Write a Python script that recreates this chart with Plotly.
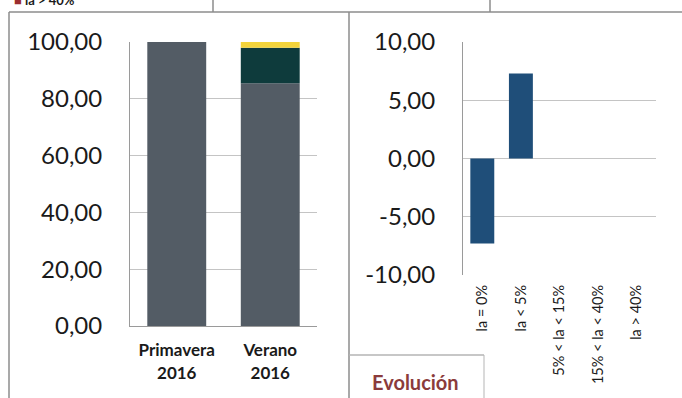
import plotly.graph_objects as go

# left chart: distribution per season (stacked, %)
seasons = ["Primavera<br>2016", "Verano<br>2016"]
series_names = ["la = 0%", "la < 5%", "5% < la < 15%", "15% < la < 40%", "la > 40%"]
series_values = [
    [100.0, 85.5],
    [0.0, 12.5],
    [0.0, 2.0],
    [0.0, 0.0],
    [0.0, 0.0],
]
series_colors = ["#535c65", "#0e3b3c", "#f3d43b", "#7f9fb9", "#9b2d30"]

# right chart: evolution
evo_categories = ["la = 0%", "la < 5%", "5% < la < 15%", "15% < la < 40%", "la > 40%"]
evo_values = [-7.3, 7.3, 0.0, 0.0, 0.0]

left_tickvals = [0, 20, 40, 60, 80, 100]
left_ticktext = ["0,00", "20,00", "40,00", "60,00", "80,00", "100,00"]
right_tickvals = [-10, -5, 0, 5, 10]
right_ticktext = ["-10,00", "-5,00", "0,00", "5,00", "10,00"]

W, H = 682, 398
def px(x):
    return x / W
def py(y):
    return 1 - y / H

fig = go.Figure()

for name, vals, col in zip(series_names, series_values, series_colors):
    fig.add_trace(go.Bar(x=seasons, y=vals, name=name, marker_color=col,
                         marker_line_width=0, width=0.63, xaxis="x", yaxis="y"))

fig.add_trace(go.Bar(x=evo_categories, y=evo_values, marker_color="#1f4e79",
                     marker_line_width=0, width=0.62, xaxis="x2", yaxis="y2",
                     showlegend=False))

grid = "#c4c4c4"
axl = "#9a9a9a"
numfont = dict(family="Lato", size=24, color="#1a1a1a")

fig.update_layout(
    width=W, height=H,
    margin=dict(l=0, r=0, t=0, b=0, autoexpand=False),
    paper_bgcolor="white", plot_bgcolor="white",
    barmode="relative",
    showlegend=False,
    xaxis=dict(domain=[px(130), px(317)], range=[-0.5, 1.5], showline=True,
               linecolor=axl, showgrid=False, ticks="", automargin=False,
               tickfont=dict(family="Lato", size=17, color="#1a1a1a", weight="bold"),
               ticklabelstandoff=9, fixedrange=True),
    yaxis=dict(domain=[py(326), py(42)], range=[0, 100], showline=True,
               linecolor=axl, gridcolor=grid, tickvals=left_tickvals,
               ticktext=left_ticktext, tickfont=numfont, ticks="", automargin=False,
               ticklabelstandoff=22, zeroline=False),
    xaxis2=dict(domain=[px(463), px(656)], range=[-0.5, 4.5], showline=False,
                showgrid=False, ticks="", tickangle=-90, anchor="y2", automargin=False,
                tickfont=dict(family="Lato", size=14.5, color="#1a1a1a"),
                ticklabelstandoff=6),
    yaxis2=dict(domain=[py(275), py(42)], range=[-10, 10], showline=True,
                linecolor=axl, gridcolor=grid, tickvals=right_tickvals,
                ticktext=right_ticktext, tickfont=numfont, ticks="", automargin=False,
                ticklabelstandoff=22, zeroline=False, anchor="x2"),
)

line = dict(color="#8c8c8c", width=1.5)
shapes = [
    dict(type="line", xref="paper", yref="paper", x0=px(9), x1=1, y0=py(12), y1=py(12), line=line),
    dict(type="line", xref="paper", yref="paper", x0=px(9), x1=px(9), y0=py(12), y1=0, line=line),
    dict(type="line", xref="paper", yref="paper", x0=px(349), x1=px(349), y0=py(12), y1=0, line=line),
    dict(type="line", xref="paper", yref="paper", x0=px(213), x1=px(213), y0=1, y1=py(12), line=line),
    dict(type="line", xref="paper", yref="paper", x0=px(490), x1=px(490), y0=1, y1=py(12), line=line),
    dict(type="line", xref="paper", yref="paper", x0=px(349), x1=px(484), y0=py(355), y1=py(355),
         line=dict(color="#b5b5b5", width=1.5)),
    dict(type="line", xref="paper", yref="paper", x0=px(484), x1=px(484), y0=py(355), y1=0,
         line=dict(color="#b5b5b5", width=1)),
]
fig.update_layout(shapes=shapes)

# legend fragment cut by the top edge, as in the scan
fig.add_annotation(xref="paper", yref="paper", x=px(12), y=py(0), xanchor="left",
                   yanchor="middle", showarrow=False,
                   text="<span style='color:#9b2d30'>■</span> la > 40%",
                   font=dict(family="Lato", size=13, color="#1a1a1a", weight="bold"))
fig.add_annotation(xref="paper", yref="paper", x=px(415), y=py(382), xanchor="center",
                   yanchor="middle", showarrow=False, text="Evolución",
                   font=dict(family="Lato", size=20, color="#8b3b3b", weight="bold"))

fig.write_html("out.html", config={"displayModeBar": False},
               post_script="document.body.style.margin='0';")
